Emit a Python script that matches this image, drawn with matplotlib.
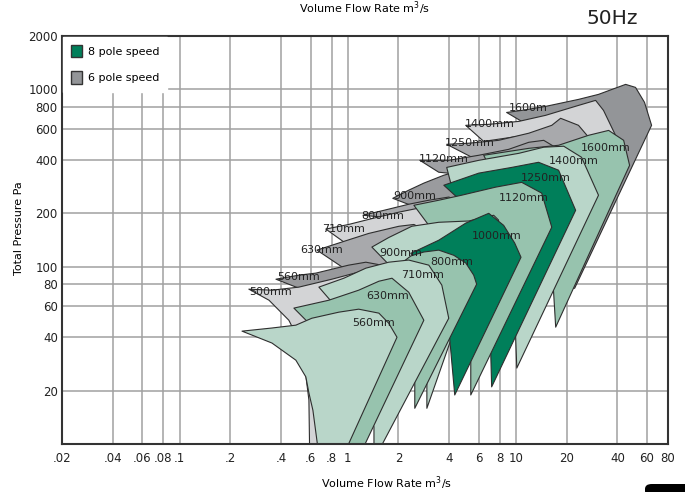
import matplotlib
matplotlib.use('Agg')
import matplotlib.pyplot as plt
from matplotlib.patches import Polygon, Patch, FancyBboxPatch

# Fan selection areas: flow (m3/s), total pressure (Pa)
# 6 pole speed (gray)
gray_1600 = [(8.79, 741), (10.8, 761), (15.0, 802), (23.5, 878), (30.9, 937), (44.8, 1067), (51.3, 1026),
             (58.0, 845), (63.9, 627), (22.3, 75.6), (16.7, 73.7), (17.9, 453), (10.8, 660)]
gray_1400 = [(5.02, 627), (6.88, 635), (10.4, 660), (15.0, 714), (23.5, 812), (29.7, 867), (33.1, 761),
             (39.0, 551), (43.6, 398), (17.9, 587), (6.42, 509)]
gray_1250 = [(3.87, 490), (5.23, 497), (7.88, 516), (11.9, 566), (16.3, 627), (18.4, 687), (23.5, 627),
             (27.0, 537), (30.9, 373), (13.6, 453), (5.60, 409)]
gray_1120 = [(2.68, 398), (3.98, 398), (6.00, 425), (9.04, 459), (11.9, 503), (14.6, 516), (16.7, 478),
             (19.2, 328), (10.4, 270), (5.23, 328), (3.47, 341)]
gray_900 = [(1.85, 243), (2.30, 270), (2.83, 296), (3.72, 328), (5.23, 359), (6.88, 368), (8.44, 328),
            (9.04, 253), (4.56, 222), (2.37, 222)]
gray_800 = [(1.23, 195), (1.64, 208), (2.30, 225), (3.03, 237), (3.98, 247), (4.88, 231), (6.00, 171),
            (3.03, 195), (1.64, 190)]
gray_710 = [(0.740, 163), (1.01, 173), (1.43, 188), (2.01, 203), (2.64, 214), (3.47, 216), (4.26, 195),
            (5.23, 141), (2.01, 124), (0.987, 134)]
gray_630 = [(0.655, 124), (0.884, 136), (1.33, 154), (2.01, 169), (2.47, 173), (3.03, 157), (3.47, 109),
            (1.53, 83.9), (0.947, 98.1)]
gray_560 = [(0.374, 85.0), (0.512, 89.6), (0.646, 92.0), (1.01, 102), (1.28, 106), (1.68, 101), (2.15, 78.7),
            (0.771, 73.7), (0.512, 75.6)]
gray_500 = [(0.258, 74.7), (0.354, 73.7), (0.512, 76.7), (0.804, 85.0), (1.28, 95.6), (1.68, 98.1), (2.01, 89.6),
            (2.15, 64.7), (0.771, 7.14), (0.595, 7.14), (0.587, 17.7), (0.548, 29.7), (0.512, 38.5),
            (0.446, 49.9), (0.340, 64.7)]

# 8 pole speed (green)
green_1600 = [(6.42, 425), (11.9, 465), (17.9, 484), (27.0, 551), (35.5, 587), (43.6, 516), (47.3, 373),
              (17.2, 45.6), (16.7, 72.8), (11.9, 73.7), (7.88, 237), (6.88, 373)]
green_1400 = [(3.87, 363), (6.00, 398), (10.4, 436), (14.6, 472), (19.2, 478), (24.5, 414), (30.9, 253),
              (10.1, 26.8), (9.94, 40.6), (7.88, 64.7), (5.60, 237), (4.09, 296)]
green_1250 = [(3.72, 288), (6.00, 337), (9.42, 363), (13.6, 388), (17.9, 350), (22.6, 208), (7.16, 21.0),
              (7.07, 32.5), (6.00, 43.9), (5.23, 183), (4.38, 250)]
green_1120 = [(2.47, 222), (3.47, 237), (4.75, 253), (7.57, 281), (10.8, 299), (14.2, 260), (16.3, 167),
              (5.38, 18.9), (5.38, 28.9), (4.26, 64.7), (3.98, 124), (3.03, 171)]
green_900 = [(1.39, 129), (1.75, 146), (2.40, 169), (3.47, 178), (5.23, 181), (7.36, 195), (7.88, 183),
             (4.09, 38.5), (2.95, 15.9), (2.95, 21.8), (2.15, 43.9), (2.01, 89.6), (1.75, 103)]
green_1000 = [(2.37, 119), (3.47, 141), (5.02, 176), (6.88, 200), (8.44, 171), (9.81, 136), (10.7, 113),
              (4.32, 18.9), (4.03, 39.5), (3.03, 64.7), (2.47, 112)]
green_800 = [(2.01, 102), (2.37, 115), (2.83, 121), (3.47, 124), (4.26, 116), (5.02, 105), (5.60, 89.6),
             (5.83, 79.7), (2.50, 15.9), (2.50, 22.1), (1.88, 38.5), (2.15, 73.7)]
green_710 = [(0.673, 76.7), (0.947, 86.1), (1.28, 98.1), (1.75, 106), (2.30, 109), (3.03, 102), (3.62, 78.7),
             (3.98, 51.2), (1.43, 8.13), (1.43, 12.5), (1.16, 22.9), (0.884, 56.9)]
green_630 = [(0.478, 58.4), (0.771, 64.7), (1.16, 73.7), (1.53, 82.8), (1.83, 86.1), (2.30, 71.8), (2.83, 49.9),
             (1.07, 7.14), (0.826, 7.14), (0.826, 38.5), (0.587, 48.0)]
green_560 = [(0.235, 43.3), (0.354, 45.1), (0.491, 46.8), (0.611, 51.2), (0.884, 55.4), (1.16, 57.6),
             (1.53, 54.7), (1.75, 48.0), (1.96, 40.0), (0.860, 7.14), (0.691, 7.14), (0.620, 15.5),
             (0.587, 19.4), (0.563, 23.9), (0.491, 29.7), (0.354, 37.1)]

# size labels and where they sit
gray_labels = ['500mm', '560mm', '630mm', '710mm', '800mm', '900mm', '1120mm', '1250mm', '1400mm', '1600m']
gray_label_q = [0.258, 0.379, 0.518, 0.701, 1.195, 1.85, 2.64, 3.76, 4.95, 9.04]
gray_label_p = [71.8, 87.3, 124, 163, 193, 249, 403, 496, 635, 781]
green_labels = ['560mm', '630mm', '710mm', '800mm', '900mm', '1000mm', '1120mm', '1250mm', '1400mm', '1600mm']
green_label_q = [1.06, 1.28, 2.07, 3.11, 1.53, 5.45, 7.88, 10.65, 15.6, 24.2]
green_label_p = [48, 68.2, 89.6, 106, 120, 148, 243, 315, 393, 465]

x_ticks = [0.02, 0.04, 0.06, 0.08, 0.1, 0.2, 0.4, 0.6, 0.8, 1, 2, 4, 6, 8, 10, 20, 40, 60, 80]
x_ticklabels = ['.02', '.04', '.06', '.08', '.1', '.2', '.4', '.6', '.8', '1', '2', '4', '6', '8', '10',
                '20', '40', '60', '80']
y_ticks = [20, 40, 60, 80, 100, 200, 400, 600, 800, 1000, 2000]
y_ticklabels = ['20', '40', '60', '80', '100', '200', '400', '600', '800', '1000', '2000']

# colours
light_green = '#b9d6c9'
mid_green = '#97c3ae'
dark_green = '#007f5a'
light_gray = '#d3d4d6'
mid_gray = '#a8a9ac'
dark_gray = '#939598'

# back to front
shapes = [
    (gray_1600, dark_gray), (gray_1400, light_gray), (gray_1250, mid_gray), (gray_1120, '#9fa0a3'),
    (gray_900, '#9a9b9e'), (gray_800, mid_gray), (gray_710, light_gray), (gray_630, mid_gray),
    (gray_560, '#98999c'), (gray_500, light_gray),
    (green_1600, mid_green), (green_1400, light_green), (green_1250, dark_green), (green_1120, mid_green),
    (green_900, light_green), (green_1000, dark_green), (green_800, mid_green), (green_710, light_green),
    (green_630, mid_green), (green_560, light_green),
]

fig = plt.figure(figsize=(6.85, 4.92), dpi=100)
ax = fig.add_axes([62 / 685, 48 / 492, 606 / 685, 408 / 492])
ax.set_xscale('log')
ax.set_yscale('log')
ax.set_xlim(0.02, 80)
ax.set_ylim(10, 2000)

for pts, col in shapes:
    ax.add_patch(Polygon(pts, closed=True, facecolor=col, edgecolor='#2e2e2e', lw=0.8,
                         joinstyle='round', zorder=2))

for txt, q, p in zip(gray_labels, gray_label_q, gray_label_p):
    ax.text(q, p, txt, fontsize=8, color='#222222', ha='left', va='center', zorder=4)
for txt, q, p in zip(green_labels, green_label_q, green_label_p):
    ax.text(q, p, txt, fontsize=8, color='#222222', ha='left', va='center', zorder=4)

ax.set_xticks(x_ticks)
ax.set_xticklabels(x_ticklabels)
ax.set_yticks(y_ticks)
ax.set_yticklabels(y_ticklabels)
ax.minorticks_off()
ax.tick_params(length=0, labelsize=8.5, colors='#222222')
ax.tick_params(axis='y', pad=3)
ax.tick_params(axis='x', pad=6)
ax.grid(True, color='#a0a0a0', lw=1.1)
ax.set_axisbelow(True)
for s in ax.spines.values():
    s.set_color('#333333')
    s.set_linewidth(1.5)

# legend
handles = [Patch(facecolor=dark_green, edgecolor='#333333', label='8 pole speed'),
           Patch(facecolor=dark_gray, edgecolor='#333333', label='6 pole speed')]
leg = ax.legend(handles=handles, loc='upper left', bbox_to_anchor=(0, 1), borderaxespad=0.1,
                frameon=True, fancybox=False, facecolor='white', edgecolor='white', framealpha=1,
                fontsize=8, handlelength=1.0, handleheight=1.35, labelspacing=1.25, handletextpad=0.5,
                borderpad=0.7)
leg.set_zorder(6)

fig.text(365 / 685, 1 - 8 / 492, 'Volume Flow Rate m$^3$/s', fontsize=8, ha='center', va='center')
fig.text(387 / 685, 1 - 483 / 492, 'Volume Flow Rate m$^3$/s', fontsize=8, ha='center', va='center')
fig.text(19 / 685, 1 - 228 / 492, 'Total Pressure Pa', fontsize=8, rotation=90, ha='center', va='center')
fig.text(612 / 685, 1 - 18 / 492, '50Hz', fontsize=14.5, ha='center', va='center', color='#222222')
fig.patches.append(FancyBboxPatch((645 / 685, -4 / 492), 50 / 685, 12 / 492, boxstyle='round,pad=0,rounding_size=0.01',
                                  transform=fig.transFigure, facecolor='black', edgecolor='none'))

fig.savefig('out.png', dpi=100)
